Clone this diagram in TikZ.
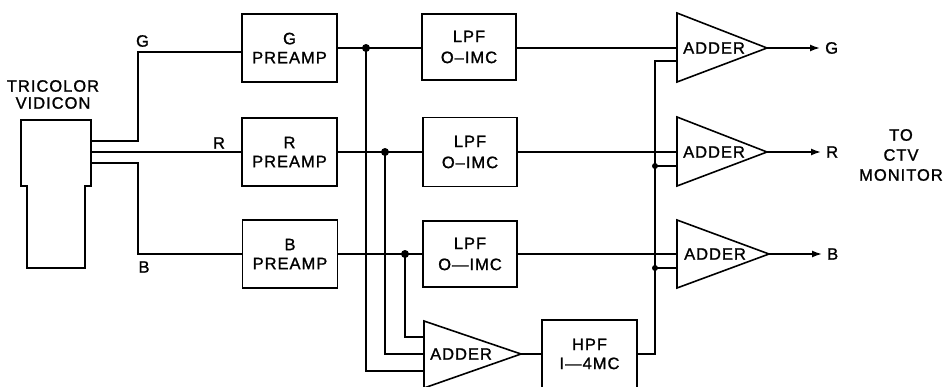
\documentclass[tikz,border=0pt]{standalone}
\usepackage{fontspec}
\setmainfont{Liberation Sans}[LetterSpace=6,FakeBold=1.2]
\usetikzlibrary{arrows.meta}
\begin{document}
\begin{tikzpicture}[x=1pt,y=-1pt,
  every node/.style={font=\fontsize{16.5}{19}\selectfont},
  wire/.style={line width=1.6pt},
  blk/.style={draw,line width=1.6pt,minimum width=95pt,minimum height=68pt,inner sep=0pt,outer sep=0pt,align=center},
  lbl/.style={inner sep=0pt,align=center},
  dot/.style={circle,fill,inner sep=0pt,minimum size=8pt},
  sdot/.style={circle,fill,inner sep=0pt,minimum size=6pt},
  sig/.style={wire,-{Latex[length=10pt,width=7pt]}}
]
\useasboundingbox (0,0) rectangle (946,386);
% vidicon
\draw[wire] (27,268) -- (27,186) -- (21,186) -- (21,120) -- (91,120) -- (91,186) -- (85,186) -- (85,268) -- cycle;
\coordinate (vidG) at (91,141);
\coordinate (vidR) at (91,152);
\coordinate (vidB) at (91,163);
\node[lbl,font=\fontsize{16.5}{17}\selectfont] (vidtxt) at (53,94.5) {TRICOLOR\\VIDICON};
% preamps
\node[blk] (preG) at (289.5,48) {G\\PREAMP};
\node[blk] (preR) at (289.5,152) {R\\PREAMP};
\node[blk] (preB) at (290,254) {B\\PREAMP};
% LPFs
\node[blk,minimum width=94pt,minimum height=66pt,font=\fontsize{16.5}{21}\selectfont] (lpfG) at (469,47) {LPF\\O–IMC};
\node[blk,minimum width=94pt,minimum height=69pt,font=\fontsize{16.5}{21}\selectfont] (lpfR) at (470,152) {LPF\\O–IMC};
\node[blk,minimum width=94pt,minimum height=66pt,font=\fontsize{16.5}{21}\selectfont] (lpfB) at (470,254) {LPF\\O—IMC};
% adders (triangles: base midpoint and apex)
\coordinate (addG) at (677,48);  \coordinate (addGtip) at (767,48);
\coordinate (addR) at (677,152); \coordinate (addRtip) at (767,152);
\coordinate (addB) at (677,254); \coordinate (addBtip) at (769,254);
\coordinate (addS) at (424,354); \coordinate (addStip) at (521,354);
\draw[wire,line join=miter] (addG) ++(0,-35) -- (addGtip) -- ++(-90,34) -- cycle;
\draw[wire,line join=miter] (addR) ++(0,-35) -- (addRtip) -- ++(-90,34) -- cycle;
\draw[wire,line join=miter] (addB) ++(0,-34) -- (addBtip) -- ++(-92,34) -- cycle;
\draw[wire,line join=miter] (addS) ++(0,-33) -- (addStip) -- ++(-97,34) -- cycle;
\node[lbl,anchor=west] (tG) at (683,48) {ADDER};
\node[lbl,anchor=west] (tR) at (683,152) {ADDER};
\node[lbl,anchor=west] (tB) at (684,254) {ADDER};
\node[lbl,anchor=west] (tS) at (430,354) {ADDER};
% HPF
\node[blk] (hpf) at (589.5,354) {HPF\\I—4MC};
% wire labels
\node[lbl] (lG) at (142.5,41) {G};
\node[lbl] (lR) at (219,143) {R};
\node[lbl] (lB) at (144,267) {B};
% outputs
\node[lbl,anchor=west] (oG) at (825,48) {G};
\node[lbl,anchor=west] (oR) at (826,152) {R};
\node[lbl,anchor=west] (oB) at (827,254) {B};
\node[lbl,font=\fontsize{16.5}{20}\selectfont] (mon) at (901,155) {TO\\CTV\\MONITOR};
% vidicon wires
\draw[wire] (vidG) -- (138,141) |- ([yshift=-4pt]preG.west);
\draw[wire] (vidR) -- (preR.west);
\draw[wire] (vidB) -- (138,163) |- (preB.west);
% preamp to LPF
\draw[wire] (preG.east) -- (lpfG.west |- preG.east);
\draw[wire] (preR.east) -- (lpfR.west);
\draw[wire] (preB.east) -- (lpfB.west);
% taps
\node[dot] (dG) at (366,48) {};
\node[dot] (dR) at (385,152) {};
\node[dot] (dB) at (405,254) {};
\draw[wire] (dG.center) |- ([yshift=-17pt]addS);
\draw[wire] (dR.center) |- (addS);
\draw[wire] (dB.center) |- ([yshift=17pt]addS);
% LPF to adders
\draw[wire] (lpfG.east |- addG) -- (addG);
\draw[wire] (lpfR.east) -- (addR);
\draw[wire] (lpfB.east) -- (addB);
% high band
\draw[wire] (addStip) -- (hpf.west);
\coordinate (bus) at (655,354);
\draw[wire] (hpf.east) -- (bus) |- ([yshift=-13pt]addG);
\node[sdot] (jR) at (655,166) {};
\node[sdot] (jB) at (655,268) {};
\draw[wire] (jR.center) -- (jR.center -| addR);
\draw[wire] (jB.center) -- (jB.center -| addB);
% outputs
\draw[sig] (addGtip) -- ([xshift=-5pt]oG.west);
\draw[sig] (addRtip) -- ([xshift=-5pt]oR.west);
\draw[sig] (addBtip) -- ([xshift=-5pt]oB.west);
\end{tikzpicture}
\end{document}
